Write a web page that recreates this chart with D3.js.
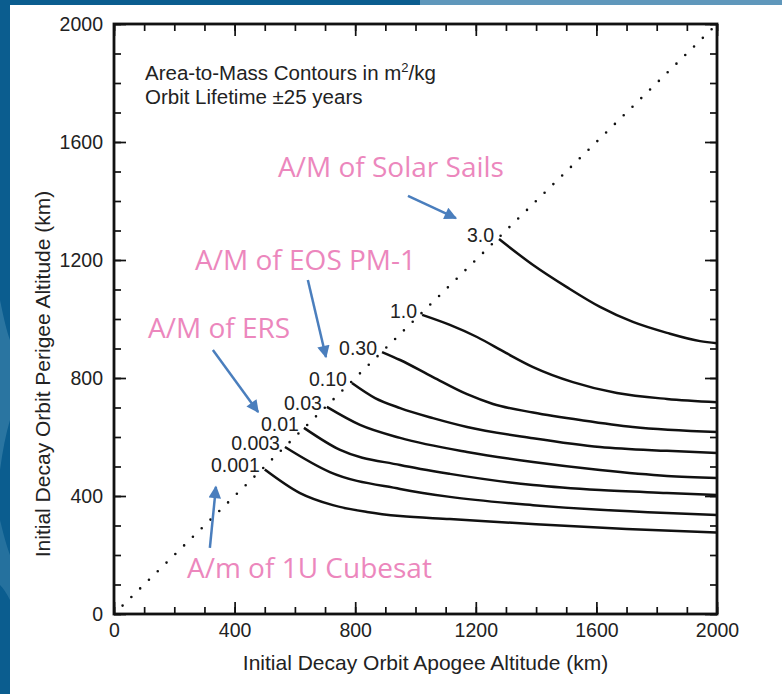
<!DOCTYPE html>
<html>
<head>
<meta charset="utf-8">
<script src="https://cdn.jsdelivr.net/npm/d3@7"></script>
<style>
  html, body { margin: 0; padding: 0; background: #fff; }
  svg { display: block; }
</style>
</head>
<body>
<svg id="chart" width="782" height="694"></svg>
<script>
// Contour levels (area-to-mass, m^2/kg) and their curves: [apogee km, perigee km]
const levels = ['3.0', '1.0', '0.30', '0.10', '0.03', '0.01', '0.003', '0.001'];

const am3_0 = [[1277, 1271], [1390, 1183], [1502, 1108], [1612, 1041], [1721, 990], [1834, 953], [1944, 925], [2000, 918]];
const am1_0 = [[1022, 1014], [1114, 980], [1204, 939], [1300, 885], [1390, 837], [1522, 786], [1668, 749], [1834, 729], [2000, 718]];
const am0_30 = [[889, 888], [949, 861], [1058, 803], [1171, 745], [1257, 712], [1390, 683], [1556, 656], [1721, 634], [2000, 617]];
const am0_10 = [[789, 783], [866, 732], [949, 698], [1058, 664], [1171, 634], [1390, 596], [1612, 566], [1834, 553], [2000, 546]];
const am0_03 = [[706, 702], [816, 641], [949, 597], [1171, 549], [1390, 515], [1612, 488], [1834, 468], [2000, 461]];
const am0_01 = [[630, 631], [750, 556], [949, 505], [1114, 475], [1390, 437], [1612, 420], [1834, 410], [2000, 403]];
const am0_003 = [[567, 566], [716, 481], [949, 424], [1114, 397], [1390, 369], [1612, 353], [1834, 342], [2000, 336]];
const am0_001 = [[500, 490], [617, 410], [726, 369], [839, 346], [949, 332], [1114, 322], [1400, 304], [1700, 288], [2000, 276]];

const contours = [am3_0, am1_0, am0_30, am0_10, am0_03, am0_01, am0_003, am0_001];

// Axis ticks
const majorTicks = [0, 400, 800, 1200, 1600, 2000];
const minorTicks = d3.range(0, 2001, 100);

// Pink call-outs: text, text anchor point, arrow tail, arrow head (all in km)
const noteTexts = ['A/M of Solar Sails', 'A/M of EOS PM-1', 'A/M of ERS', 'A/m of 1U Cubesat'];
const noteAt = [[544, 1481], [269, 1166], [113, 936], [242, 122]];
const arrowFrom = [[975, 1417], [643, 1132], [328, 895], [318, 224]];
const arrowTo = [[1134, 1342], [703, 871], [478, 685], [338, 431]];

const inset = ['Area-to-Mass Contours in m', 'Orbit Lifetime \u00b125 years'];

// Layout
const W = 782, H = 694;
const margin = { top: 24, right: 65, bottom: 80, left: 114 };
const plotW = W - margin.left - margin.right;
const plotH = H - margin.top - margin.bottom;

const svg = d3.select('#chart');

// Slide background edges
svg.append('rect').attr('x', 0).attr('y', 0).attr('width', 10).attr('height', H).attr('fill', '#0b5d8f');
svg.append('path')
    .attr('d', 'M0,300 Q6,330 10,340 L10,420 Q4,440 0,470 Z')
    .attr('fill', '#3f86ad').attr('opacity', 0.6);
svg.append('path')
    .attr('d', 'M0,520 Q6,545 10,555 L10,600 Q5,590 0,585 Z')
    .attr('fill', '#3f86ad').attr('opacity', 0.5);
svg.append('rect').attr('x', 0).attr('y', 0).attr('width', 420).attr('height', 5).attr('fill', '#0b5d8f');
svg.append('rect').attr('x', 420).attr('y', 0).attr('width', W - 420).attr('height', 5).attr('fill', '#5f97bb');

const g = svg.append('g')
    .attr('transform', `translate(${margin.left},${margin.top})`)
    .style('font-family', '"Liberation Sans", Arial, Helvetica, sans-serif');

const x = d3.scaleLinear().domain([0, 2000]).range([0, plotW]);
const y = d3.scaleLinear().domain([0, 2000]).range([plotH, 0]);

// Inward ticks on all four sides
function tickAxis(axisFn, scale, values, size, labels) {
    return axisFn(scale).tickValues(values).tickSize(-size)
        .tickFormat(labels ? d3.format('d') : '');
}

const axes = [
    { fn: d3.axisBottom, s: x, t: `translate(0,${plotH})`, lab: true },
    { fn: d3.axisTop, s: x, t: 'translate(0,0)', lab: false },
    { fn: d3.axisLeft, s: y, t: 'translate(0,0)', lab: true },
    { fn: d3.axisRight, s: y, t: `translate(${plotW},0)`, lab: false }
];

axes.forEach(ax => {
    const minor = g.append('g').attr('transform', ax.t)
        .call(tickAxis(ax.fn, ax.s, minorTicks, 7, false));
    const major = g.append('g').attr('transform', ax.t)
        .call(tickAxis(ax.fn, ax.s, majorTicks, 12, ax.lab)
            .tickPadding(ax.fn === d3.axisLeft ? 11 : 9));
    [minor, major].forEach(sel => {
        sel.select('.domain').remove();
        sel.selectAll('line').attr('stroke', '#111').attr('stroke-width', 1.7);
        sel.selectAll('text')
            .attr('fill', '#222')
            .style('font-size', '19.5px')
            .style('font-family', '"Liberation Sans", Arial, sans-serif');
    });
});

// Frame
g.append('rect')
    .attr('x', 0).attr('y', 0)
    .attr('width', plotW).attr('height', plotH)
    .attr('fill', 'none')
    .attr('stroke', '#111')
    .attr('stroke-width', 2.8);

// Dotted line apogee = perigee
g.append('line')
    .attr('x1', x(0)).attr('y1', y(0))
    .attr('x2', x(2000)).attr('y2', y(2000))
    .attr('stroke', '#111')
    .attr('stroke-width', 2.6)
    .attr('stroke-linecap', 'round')
    .attr('stroke-dasharray', '0 12.3')
    .attr('stroke-dashoffset', -12);

// Contour lines
const line = d3.line()
    .x(d => x(d[0]))
    .y(d => y(d[1]))
    .curve(d3.curveMonotoneX);

g.selectAll('.contour')
    .data(contours)
    .enter()
    .append('path')
    .attr('class', 'contour')
    .attr('d', line)
    .attr('fill', 'none')
    .attr('stroke', '#111')
    .attr('stroke-width', 2.5);

// Contour labels at the start of each curve
g.selectAll('.level')
    .data(contours)
    .enter()
    .append('text')
    .attr('class', 'level')
    .attr('x', d => x(d[0][0]) - 5)
    .attr('y', d => y(d[0][1]) + 3)
    .attr('text-anchor', 'end')
    .attr('fill', '#222')
    .style('font-size', '19.5px')
    .text((d, i) => levels[i]);

// Inset text
const t1 = g.append('text')
    .attr('x', 31).attr('y', 56)
    .attr('fill', '#222')
    .style('font-size', '20.5px');
t1.append('tspan').text(inset[0]);
t1.append('tspan').attr('dy', -8).style('font-size', '13px').text('2');
t1.append('tspan').attr('dy', 8).text('/kg');

g.append('text')
    .attr('x', 31).attr('y', 80)
    .attr('fill', '#222')
    .style('font-size', '20.5px')
    .text(inset[1]);

// Axis titles
g.append('text')
    .attr('x', plotW / 2 + 10)
    .attr('y', plotH + 56)
    .attr('text-anchor', 'middle')
    .attr('fill', '#222')
    .style('font-size', '21px')
    .text('Initial Decay Orbit Apogee Altitude (km)');

g.append('text')
    .attr('transform', 'rotate(-90)')
    .attr('x', -(plotH / 2 + 55))
    .attr('y', -64)
    .attr('text-anchor', 'middle')
    .attr('fill', '#222')
    .style('font-size', '21px')
    .text('Initial Decay Orbit Perigee Altitude (km)');

// Call-out arrows
svg.append('defs').append('marker')
    .attr('id', 'head')
    .attr('viewBox', '0 0 10 10')
    .attr('refX', 9).attr('refY', 5)
    .attr('markerWidth', 5.5).attr('markerHeight', 5)
    .attr('markerUnits', 'strokeWidth')
    .attr('orient', 'auto')
    .append('path')
    .attr('d', 'M0,0 L10,5 L0,10 Z')
    .attr('fill', '#4a7ebd');

g.selectAll('.arrow')
    .data(arrowFrom)
    .enter()
    .append('line')
    .attr('class', 'arrow')
    .attr('x1', d => x(d[0])).attr('y1', d => y(d[1]))
    .attr('x2', (d, i) => x(arrowTo[i][0])).attr('y2', (d, i) => y(arrowTo[i][1]))
    .attr('stroke', '#4a7ebd')
    .attr('stroke-width', 2.5)
    .attr('marker-end', 'url(#head)');

g.selectAll('.note')
    .data(noteTexts)
    .enter()
    .append('text')
    .attr('class', 'note')
    .attr('x', (d, i) => x(noteAt[i][0]))
    .attr('y', (d, i) => y(noteAt[i][1]))
    .attr('fill', '#ec87bd')
    .style('font-family', '"Open Sans", "Noto Sans", sans-serif')
    .style('font-size', '28px')
    .text(d => d);
</script>
</body>
</html>
